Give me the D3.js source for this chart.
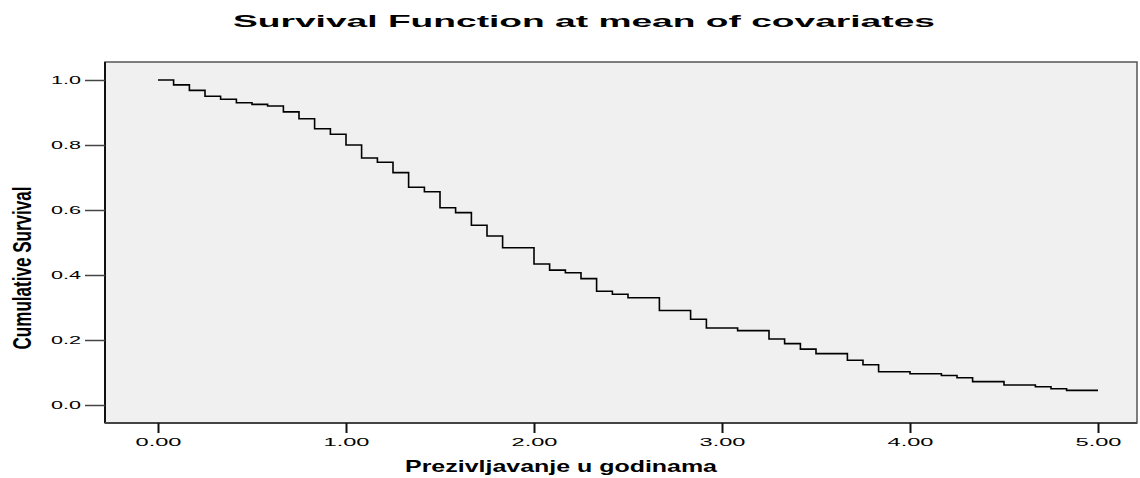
<!DOCTYPE html>
<html>
<head>
<meta charset="utf-8">
<script src="https://cdn.jsdelivr.net/npm/d3@7"></script>
<style>
  html, body { margin: 0; padding: 0; background: #ffffff; }
  svg { display: block; }
  text { font-family: "Liberation Sans", Arial, Helvetica, sans-serif; fill: #000; }
</style>
</head>
<body>
<svg id="chart" width="1140" height="478"></svg>
<script>
// ---- data ----
const times = [0.000, 0.083, 0.167, 0.250, 0.333, 0.417, 0.500, 0.583, 0.667, 0.750,
               0.833, 0.917, 1.000, 1.083, 1.167, 1.250, 1.333, 1.417, 1.500, 1.583,
               1.667, 1.750, 1.833, 2.000, 2.083, 2.167, 2.250, 2.333, 2.417, 2.500,
               2.667, 2.833, 2.917, 3.083, 3.250, 3.333, 3.417, 3.500, 3.667, 3.750,
               3.833, 4.000, 4.167, 4.250, 4.333, 4.500, 4.667, 4.750, 4.833, 5.000];
const survival = [1.000, 0.985, 0.968, 0.950, 0.941, 0.930, 0.925, 0.920, 0.902, 0.881,
                  0.850, 0.833, 0.800, 0.760, 0.747, 0.715, 0.670, 0.656, 0.607, 0.592,
                  0.553, 0.520, 0.484, 0.434, 0.415, 0.407, 0.389, 0.350, 0.341, 0.330,
                  0.291, 0.264, 0.237, 0.229, 0.203, 0.189, 0.172, 0.158, 0.1375, 0.124,
                  0.1025, 0.096, 0.091, 0.084, 0.072, 0.0615, 0.056, 0.050, 0.045, 0.045];
const xTicks = [0, 1, 2, 3, 4, 5];
const yTicks = [0.0, 0.2, 0.4, 0.6, 0.8, 1.0];
const titleText = "Survival Function at mean of covariates";
const xLabel = "Prezivljavanje u godinama";
const yLabel = "Cumulative Survival";

// ---- layout ----
const svg = d3.select("#chart");
const frame = { left: 105, top: 62, right: 1137, bottom: 423 };

const x = d3.scaleLinear().domain([0, 5]).range([158, 1098]);
const y = d3.scaleLinear().domain([0, 1]).range([405, 80]);

// plot background
svg.append("rect")
  .attr("x", frame.left).attr("y", frame.top)
  .attr("width", frame.right - frame.left)
  .attr("height", frame.bottom - frame.top)
  .attr("fill", "#f0f0f0")
  .attr("stroke", "#555")
  .attr("stroke-width", 1.5);

// y axis
const yAxis = svg.append("g")
  .attr("transform", `translate(${frame.left},0)`)
  .call(d3.axisLeft(y).tickValues(yTicks).tickFormat(d3.format(".1f")).tickSize(20).tickPadding(4));
yAxis.select(".domain").attr("stroke", "#111").attr("stroke-width", 2)
  .attr("d", `M0,${frame.top}V${frame.bottom}`);
yAxis.selectAll(".tick line").attr("stroke", "#444").attr("stroke-width", 1.5);
yAxis.selectAll(".tick text")
  .attr("font-size", 11).attr("font-family", "Liberation Sans, Arial, sans-serif")
  .attr("fill", "#000")
  .attr("textLength", 30).attr("lengthAdjust", "spacingAndGlyphs")
  .attr("dy", "0.36em");

// x axis
const xAxis = svg.append("g")
  .attr("transform", `translate(0,${frame.bottom})`)
  .call(d3.axisBottom(x).tickValues(xTicks).tickFormat(d3.format(".2f")).tickSize(10).tickPadding(6));
xAxis.select(".domain").attr("stroke", "#444").attr("stroke-width", 2)
  .attr("d", `M${frame.left},0H${frame.right}`);
xAxis.selectAll(".tick line").attr("stroke", "#111").attr("stroke-width", 2);
xAxis.selectAll(".tick text")
  .attr("font-size", 10.5).attr("font-family", "Liberation Sans, Arial, sans-serif")
  .attr("fill", "#000")
  .attr("textLength", 46).attr("lengthAdjust", "spacingAndGlyphs");

// survival step line
const pts = times.map((t, i) => [t, survival[i]]);
const line = d3.line().x(d => x(d[0])).y(d => y(d[1])).curve(d3.curveStepAfter);
svg.append("path")
  .datum(pts)
  .attr("d", line)
  .attr("fill", "none")
  .attr("stroke", "#000")
  .attr("stroke-width", 1.6);

// title
svg.append("text")
  .attr("x", 584).attr("y", 27)
  .attr("text-anchor", "middle")
  .attr("font-size", 17).attr("font-weight", "bold")
  .attr("textLength", 702).attr("lengthAdjust", "spacingAndGlyphs")
  .text(titleText);

// x label
svg.append("text")
  .attr("x", 561).attr("y", 472)
  .attr("text-anchor", "middle")
  .attr("font-size", 17).attr("font-weight", "bold")
  .attr("textLength", 312).attr("lengthAdjust", "spacingAndGlyphs")
  .text(xLabel);

// y label
svg.append("text")
  .attr("transform", "translate(31,268) rotate(-90)")
  .attr("text-anchor", "middle")
  .attr("font-size", 26).attr("font-weight", "bold")
  .attr("textLength", 163).attr("lengthAdjust", "spacingAndGlyphs")
  .text(yLabel);
</script>
</body>
</html>
